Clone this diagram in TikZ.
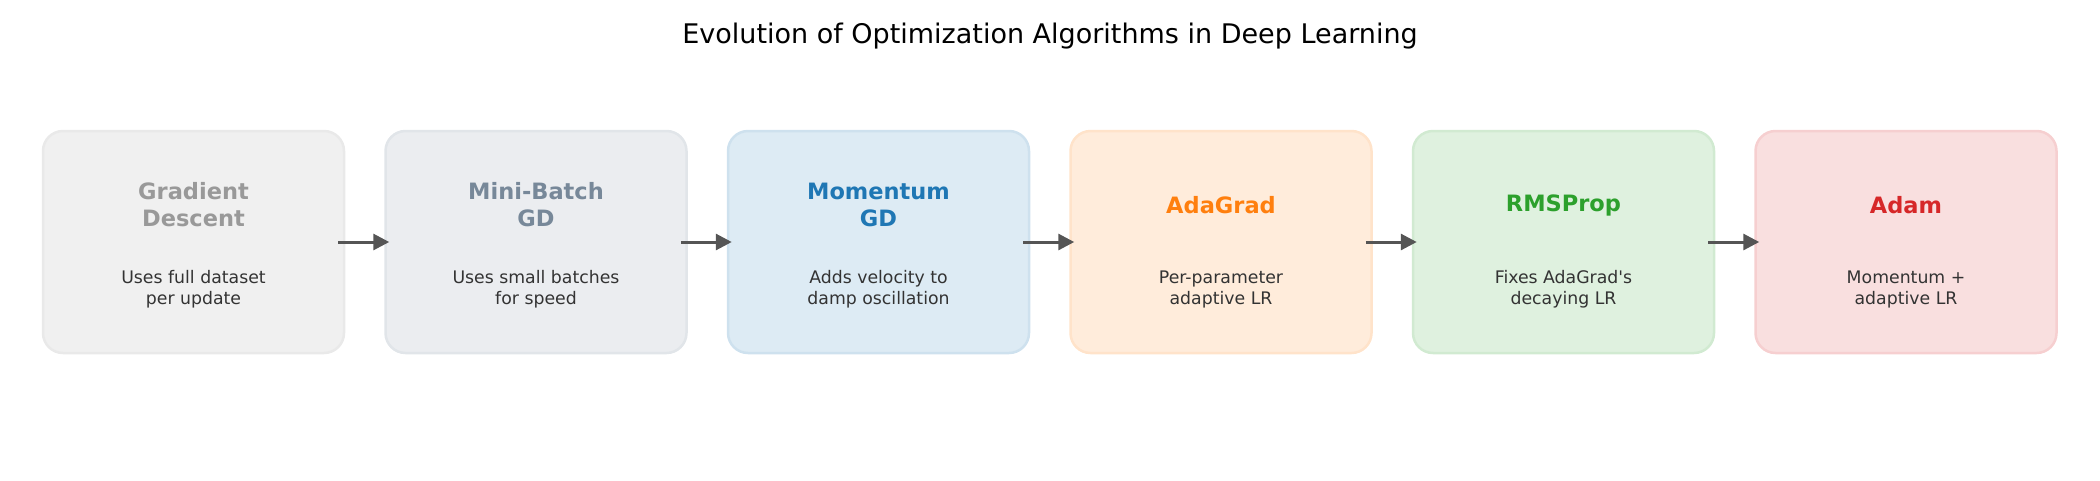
\documentclass[tikz,border=0pt]{standalone}
\usepackage{fontspec}
\setmainfont{DejaVu Sans}[Ligatures=TeXOff]
\usetikzlibrary{arrows.meta}
\definecolor{cgray}{HTML}{999999}
\definecolor{cslate}{HTML}{778899}
\definecolor{cblue}{HTML}{1F77B4}
\definecolor{corange}{HTML}{FF7F0E}
\definecolor{cgreen}{HTML}{2CA02C}
\definecolor{cred}{HTML}{D62728}
\definecolor{cdesc}{HTML}{333333}
\definecolor{carrow}{HTML}{555555}
\tikzset{
  algbox/.style={rectangle, rounded corners=20pt, minimum width=301pt, minimum height=222pt,
    line width=2.5pt, draw=#1!22!white, fill=#1!15!white, inner sep=0pt},
  algtitle/.style={text=#1, align=center, font=\fontsize{22.5}{27}\selectfont\bfseries},
  algdesc/.style={text=cdesc, align=center, font=\fontsize{17.3}{21}\selectfont},
  arr/.style={draw=carrow, line width=3pt, -{Triangle[length=16pt,width=16pt]}}
}
\begin{document}
\begin{tikzpicture}[x=1pt,y=-1pt]
\useasboundingbox (0,0) rectangle (2100,480);
\node[font=\fontsize{27}{32}\selectfont, text=black] (title) at (1050,36) {Evolution of Optimization Algorithms in Deep Learning};
\foreach \i/\c/\t/\d in {
  1/cgray/{Gradient\\Descent}/{Uses full dataset\\per update},
  2/cslate/{Mini-Batch\\GD}/{Uses small batches\\for speed},
  3/cblue/{Momentum\\GD}/{Adds velocity to\\damp oscillation},
  4/corange/{AdaGrad}/{Per-parameter\\adaptive LR},
  5/cgreen/{RMSProp}/{Fixes AdaGrad's\\decaying LR},
  6/cred/{Adam}/{Momentum +\\adaptive LR}}{
  \pgfmathsetmacro{\cx}{193.5+(\i-1)*342.5}
  \node[algbox=\c] (b\i) at (\cx,242) {};
  \node[algtitle=\c] (t\i) at (\cx,205) {\t};
  \node[algdesc] (d\i) at (\cx,289) {\d};
}
\foreach \a/\b in {1/2,2/3,3/4,4/5,5/6}{
  \draw[arr] ([xshift=-7pt]b\a.east) -- ([xshift=5pt]b\b.west);
}
\end{tikzpicture}
\end{document}
